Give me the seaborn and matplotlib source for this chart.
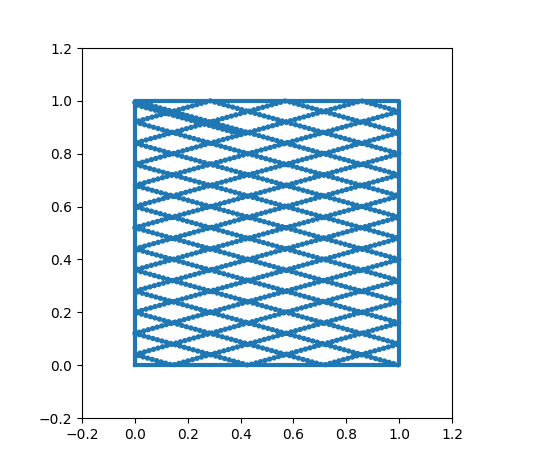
import matplotlib
matplotlib.use("Agg")
import matplotlib.pyplot as plt
import seaborn as sns

# box walls
box_x = [0, 1, 1, 0, 0]
box_y = [0, 0, 1, 1, 0]

# bounce points of the ball, in the order it hits them
path_x = [0.40, 0.0,
          0, 1, 0, 1, 0.4286, 0, 1, 0, 1, 0.8571, 0, 1, 0, 0.7143, 1, 0,
          1, 0, 0.2857, 1, 0, 1, 0.1429, 0, 1, 0, 1, 0.5714, 0, 1, 0, 1]
path_y = [0.874, 0.986,
          1, 0.72, 0.44, 0.16, 0, 0.12, 0.40, 0.68, 0.96, 1, 0.76, 0.48, 0.20, 0, 0.08, 0.36,
          0.64, 0.92, 1, 0.80, 0.52, 0.24, 0, 0.04, 0.32, 0.60, 0.88, 1, 0.84, 0.56, 0.28, 0]

ticks = [-0.2, 0.0, 0.2, 0.4, 0.6, 0.8, 1.0, 1.2]

fig = plt.figure(figsize=(5.48, 4.67), dpi=100)
ax = fig.add_axes([82 / 548, 49 / 467, 370 / 548, 370 / 467])

sns.lineplot(x=box_x, y=box_y, sort=False, estimator=None, color="C0", lw=3, ax=ax)
# ball positions: dotted trail along the path
sns.lineplot(x=path_x, y=path_y, sort=False, estimator=None, color="C0",
             lw=3.9, linestyle=(0, (0.01, 0.85)), ax=ax)
ax.lines[-1].set_dash_capstyle("round")

ax.set_xlim(-0.2, 1.2)
ax.set_ylim(-0.2, 1.2)
ax.set_xticks(ticks)
ax.set_yticks(ticks)

fig.savefig("out.png", dpi=100)
